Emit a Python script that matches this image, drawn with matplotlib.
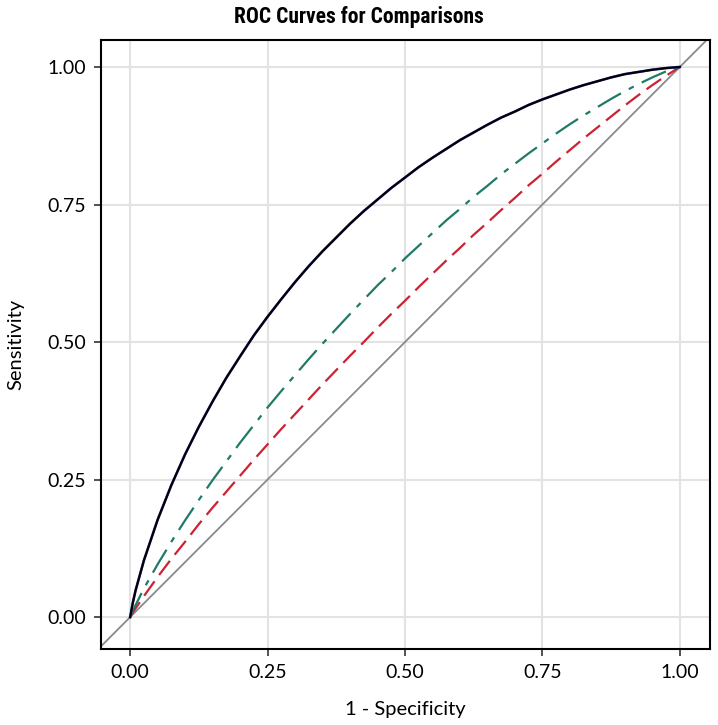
import matplotlib
matplotlib.use("Agg")
import matplotlib.pyplot as plt
from matplotlib import font_manager

# Data
fpr = [0, 0.005, 0.01, 0.025, 0.05, 0.075, 0.1, 0.125, 0.15, 0.175, 0.2, 0.225,
       0.25, 0.275, 0.3, 0.325, 0.35, 0.375, 0.4, 0.425, 0.45, 0.475, 0.5,
       0.525, 0.55, 0.575, 0.6, 0.625, 0.65, 0.675, 0.7, 0.725, 0.75, 0.775,
       0.8, 0.825, 0.85, 0.875, 0.9, 0.925, 0.95, 0.975, 1.0]
tpr_black = [0, 0.027, 0.049, 0.103, 0.177, 0.240, 0.296, 0.346, 0.392, 0.435,
             0.474, 0.512, 0.546, 0.578, 0.609, 0.638, 0.665, 0.690, 0.715,
             0.738, 0.759, 0.780, 0.799, 0.818, 0.835, 0.851, 0.867, 0.881,
             0.895, 0.908, 0.919, 0.931, 0.941, 0.950, 0.959, 0.967, 0.974,
             0.981, 0.987, 0.991, 0.995, 0.998, 1.0]
tpr_blue = [0, 0.027, 0.049, 0.103, 0.177, 0.240, 0.296, 0.346, 0.392, 0.435,
            0.474, 0.512, 0.546, 0.578, 0.609, 0.638, 0.665, 0.690, 0.715,
            0.738, 0.759, 0.780, 0.799, 0.818, 0.835, 0.851, 0.867, 0.881,
            0.895, 0.908, 0.919, 0.931, 0.941, 0.950, 0.959, 0.967, 0.974,
            0.981, 0.987, 0.991, 0.995, 0.998, 1.0]
tpr_teal = [0, 0.012, 0.022, 0.052, 0.096, 0.137, 0.176, 0.213, 0.249, 0.283,
            0.317, 0.349, 0.381, 0.411, 0.440, 0.469, 0.497, 0.524, 0.551,
            0.577, 0.603, 0.627, 0.652, 0.675, 0.698, 0.721, 0.742, 0.764,
            0.784, 0.805, 0.824, 0.843, 0.861, 0.879, 0.896, 0.912, 0.927,
            0.942, 0.956, 0.969, 0.981, 0.992, 1.0]
tpr_red = [0, 0.0085, 0.016, 0.038, 0.073, 0.106, 0.137, 0.169, 0.199, 0.228,
           0.257, 0.286, 0.314, 0.342, 0.369, 0.396, 0.423, 0.449, 0.475,
           0.500, 0.526, 0.551, 0.575, 0.600, 0.624, 0.648, 0.671, 0.695,
           0.717, 0.740, 0.762, 0.785, 0.806, 0.828, 0.849, 0.870, 0.890,
           0.910, 0.930, 0.949, 0.967, 0.984, 1.0]
ticks = [0.0, 0.25, 0.5, 0.75, 1.0]
tick_labels = ["0.00", "0.25", "0.50", "0.75", "1.00"]

plt.rcParams['font.family'] = ['Lato', 'DejaVu Sans']

installed = {f.name for f in font_manager.fontManager.ttflist}
title_family = 'Lato'
title_size = 13.5
for cand, sz in [('Roboto Condensed', 15.5), ('Liberation Sans Narrow', 15.5),
                 ('Open Sans Condensed', 15.5), ('DejaVu Sans Condensed', 14.5)]:
    if cand in installed:
        title_family = cand
        title_size = sz
        break

fig = plt.figure(figsize=(7.18, 7.25), dpi=100)
ax = fig.add_axes([0.1407, 0.1048, 0.8482, 0.84])

ax.axline((0, 0), (1, 1), color='#8a8a8a', lw=1.3, zorder=2)
ax.plot(fpr, tpr_red, color='#cc2233', lw=1.6, dashes=(8, 3.5), zorder=3)
ax.plot(fpr, tpr_teal, color='#1f7a68', lw=1.6, dashes=(12, 4, 2.5, 4), zorder=3)
ax.plot(fpr, tpr_blue, color='#3a3aa8', lw=1.9, zorder=4)
ax.plot(fpr, tpr_black, color='#000000', lw=1.5, zorder=5)

ax.set_xlim(-0.053, 1.055)
ax.set_ylim(-0.058, 1.049)
ax.set_xticks(ticks)
ax.set_xticklabels(tick_labels)
ax.set_yticks(ticks)
ax.set_yticklabels(tick_labels)
ax.grid(True, color='#e3e3e3', lw=1.5)
ax.set_axisbelow(True)
for s in ax.spines.values():
    s.set_linewidth(1.5)
    s.set_color('black')
ax.tick_params(direction='out', length=5, width=1.2, labelsize=14, pad=6, color='#333333')

fig.text(0.5, 1 - 17 / 725, "ROC Curves for Comparisons", ha='center', va='center',
         fontsize=title_size, fontweight='bold', family=[title_family, 'Lato', 'DejaVu Sans'])
ax.set_xlabel("1 - Specificity", fontsize=14.5, labelpad=14)
ax.set_ylabel("Sensitivity", fontsize=14.5, labelpad=16)

fig.savefig("out.png", dpi=100)
